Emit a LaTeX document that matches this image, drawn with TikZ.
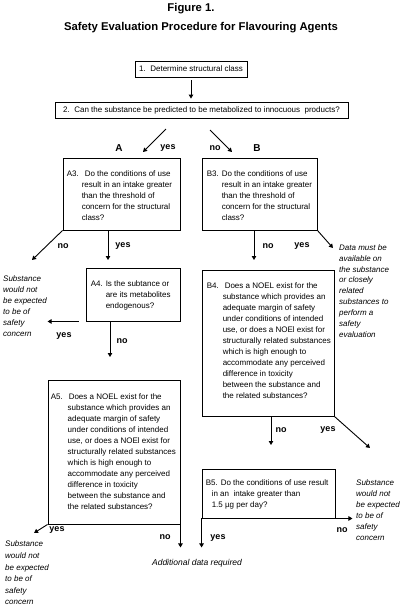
\documentclass[tikz,border=0pt]{standalone}
\usepackage{fontspec}
\setmainfont{Liberation Sans}
\usetikzlibrary{arrows.meta}
\begin{document}
\begin{tikzpicture}[x=1pt,y=-1pt,
  box/.style={draw, line width=0.9pt, inner sep=0pt},
  btxt/.style={inner sep=0pt, anchor=west, align=left, font=\fontsize{8}{11}\selectfont},
  ital/.style={inner sep=0pt, anchor=west, align=left, font=\fontsize{8}{11}\selectfont\itshape},
  lab/.style={inner sep=0pt, font=\fontsize{9}{10}\selectfont\bfseries},
  ttlfont/.style={inner sep=0pt, font=\fontsize{11.3}{13}\selectfont\bfseries},
  conn/.style={line width=0.9pt, -{Triangle[length=4pt,width=4.5pt]}}]
\useasboundingbox (0,0) rectangle (404,616);

% titles
\node[ttlfont] (fig) at (191,9) {Figure 1.};
\node[ttlfont] (ttl) at (201,28) {Safety Evaluation Procedure for Flavouring Agents};

% top boxes
\node[box, minimum width=112pt, minimum height=16pt, font=\fontsize{8}{10}\selectfont] (b1) at (191,69) {1.\ \ Determine structural class};
\node[box, minimum width=293pt, minimum height=16pt, font=\fontsize{8}{10}\selectfont] (b2) at (201.5,110) {2.\ \ Can the substance be predicted to be metabolized to innocuous\ \ products?};

% question boxes
\node[box, minimum width=117pt, minimum height=72pt] (a3) at (121.5,194) {};
\node[btxt] (a3t) at ([xshift=4pt,yshift=-2pt]a3.west) {A3.\hspace{6pt}Do the conditions of use\\
\hspace*{15pt}result in an intake greater\\
\hspace*{15pt}than the threshold of\\
\hspace*{15pt}concern for the structural\\
\hspace*{15pt}class?};

\node[box, minimum width=115pt, minimum height=72pt] (b3) at (259.5,194) {};
\node[btxt] (b3t) at ([xshift=5pt,yshift=-2pt]b3.west) {B3.\hspace{3pt}Do the conditions of use\\
\hspace*{15pt}result in an intake greater\\
\hspace*{15pt}than the threshold of\\
\hspace*{15pt}concern for the structural\\
\hspace*{15pt}class?};

\node[box, minimum width=94pt, minimum height=53pt] (a4) at (133,294.5) {};
\node[btxt] (a4t) at ([xshift=5pt,yshift=-1pt]a4.west) {A4.\hspace{3pt}Is the subtance or\\
\hspace*{15pt}are its metabolites\\
\hspace*{15pt}endogenous?};

\node[box, minimum width=132pt, minimum height=146pt] (b4) at (268,343) {};
\node[btxt] (b4t) at ([xshift=5pt,yshift=2pt]b4.west) {B4.\hspace{6pt}Does a NOEL exist for the\\
\hspace*{16pt}substance which provides an\\
\hspace*{16pt}adequate margin of safety\\
\hspace*{16pt}under conditions of intended\\
\hspace*{16pt}use, or does a NOEl exist for\\
\hspace*{16pt}structurally related substances\\
\hspace*{16pt}which is high enough to\\
\hspace*{16pt}accommodate any perceived\\
\hspace*{16pt}difference in toxicity\\
\hspace*{16pt}between the substance and\\
\hspace*{16pt}the related substances?};

\node[box, minimum width=132pt, minimum height=144pt] (a5) at (114,452) {};
\node[btxt] (a5t) at ([xshift=3pt]a5.west) {A5.\hspace{6pt}Does a NOEL exist for the\\
\hspace*{17pt}substance which provides an\\
\hspace*{17pt}adequate margin of safety\\
\hspace*{17pt}under conditions of intended\\
\hspace*{17pt}use, or does a NOEl exist for\\
\hspace*{17pt}structurally related substances\\
\hspace*{17pt}which is high enough to\\
\hspace*{17pt}accommodate any perceived\\
\hspace*{17pt}difference in toxicity\\
\hspace*{17pt}between the substance and\\
\hspace*{17pt}the related substances?};

\node[box, minimum width=133pt, minimum height=49pt] (b5) at (268.5,493.5) {};
\node[btxt] (b5t) at ([xshift=4pt,yshift=-1pt]b5.west) {B5.\hspace{3pt}Do the conditions of use result\\
\hspace*{6pt}in an\ \ intake greater than\\
\hspace*{6pt}1.5 µg per day?};

% free coordinates
\coordinate (ayS) at (166,129);
\coordinate (ayE) at (143,152);
\coordinate (bnS) at (210,130);
\coordinate (bnE) at (232,152);
\coordinate (a3no) at (32,260);
\coordinate (a3yes) at (108,260);
\coordinate (b3no) at (254,260);
\coordinate (b3yes) at (333,248);
\coordinate (a4yes) at ([xshift=-38pt]a4.south west);
\coordinate (a4no) at (110,357);
\coordinate (b4no) at (271,445);
\coordinate (b4yes) at (370,448);
\coordinate (a5yes) at (34,533);
\coordinate (a5no) at ([yshift=-23pt]a5.south east);
\coordinate (b5yes) at ([yshift=-29pt]b5.south west);
\coordinate (b5no) at ([xshift=17pt]b5.south east);

% connectors
\draw[conn, shorten <=3pt, shorten >=3pt] (b1.south) -- (b1.south |- b2.north);
\draw[conn] (ayS) -- (ayE);
\draw[conn] (bnS) -- (bnE);
\draw[conn] (a3.south west) -- (a3no);
\draw[conn] (a3yes |- a3.south) -- (a3yes);
\draw[conn] (b3no |- b3.south) -- (b3no);
\draw[conn] (b3.south east) -- (b3yes);
\draw[conn, shorten <=7pt] (a4.south west) -- (a4yes);
\draw[conn] (a4no |- a4.south) -- (a4no);
\draw[conn] (b4no |- b4.south) -- (b4no);
\draw[conn] (b4.south east) -- (b4yes);
\draw[conn] (a5.south west) -- (a5yes);
\draw[conn] (a5.south east) -- (a5no);
\draw[conn] (b5.south west) -- (b5yes);
\draw[conn] (b5.south east) -- (b5no);

% branch labels
\node[lab, font=\fontsize{10}{11}\selectfont\bfseries] (lA) at (119,148) {A};
\node[lab, font=\fontsize{10}{11}\selectfont\bfseries] (lB) at (257,148) {B};
\node[lab] (l2y) at (168,148) {yes};
\node[lab] (l2n) at (215,148) {no};
\node[lab] (l3an) at (63,246) {no};
\node[lab] (l3ay) at (123,246) {yes};
\node[lab] (l3bn) at (268,246) {no};
\node[lab] (l3by) at (302,246) {yes};
\node[lab] (l4ay) at (64,336) {yes};
\node[lab] (l4an) at (122,341) {no};
\node[lab] (l4bn) at (281,430) {no};
\node[lab] (l4by) at (328,430) {yes};
\node[lab] (l5ay) at (57,530) {yes};
\node[lab] (l5an) at (165,537) {no};
\node[lab] (l5by) at (218,538) {yes};
\node[lab] (l5bn) at (342,530) {no};

% italic outcomes
\node[ital, font=\fontsize{8}{10.9}\selectfont\itshape] (data) at (339,291) {Data must be\\available on\\the substance\\or closely\\related\\substances to\\perform a\\safety\\evaluation};
\node[ital, font=\fontsize{8}{10.9}\selectfont\itshape] (s1) at (3,306) {Substance\\would not\\be expected\\to be of\\safety\\concern};
\node[ital] (s2) at (356,510.5) {Substance\\would not\\be expected\\to be of\\safety\\concern};
\node[ital, font=\fontsize{8}{11.6}\selectfont\itshape] (s3) at (5,573) {Substance\\would not\\be expected\\to be of\\safety\\concern};
\node[inner sep=0pt, font=\fontsize{8.5}{10}\selectfont\itshape] (add) at (197,563) {Additional data required};
\end{tikzpicture}
\end{document}
